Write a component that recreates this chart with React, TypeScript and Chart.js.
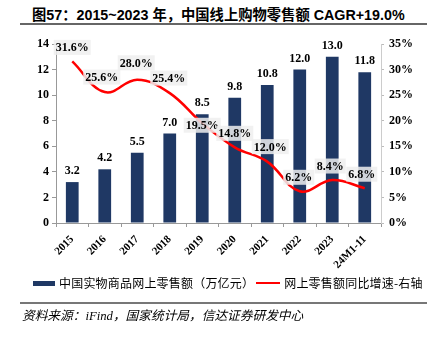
import React, { useEffect, useRef } from "react";
import { Chart, registerables } from "chart.js";

Chart.register(...registerables);

const categories = ["2015", "2016", "2017", "2018", "2019", "2020", "2021", "2022", "2023", "24M1-11"];
const salesValues = [3.2, 4.2, 5.5, 7.0, 8.5, 9.8, 10.8, 12.0, 13.0, 11.8];
const growthValues = [31.6, 25.6, 28.0, 25.4, 19.5, 14.8, 12.0, 6.2, 8.4, 6.8];
const salesLabel = "中国实物商品网上零售额（万亿元）";
const growthLabel = "网上零售额同比增速-右轴";
const titleText = "图57：2015~2023 年，中国线上购物零售额 CAGR+19.0%";
const sourceText = "资料来源：iFind，国家统计局，信达证券研发中心";

// label placement tweaks (pixels) for the growth labels
const growthLabelDx = [0, -3, -1, -1, 0, 0, 3, -1, -2, -3];
const growthLabelDy = [-14, -15, -17, -15, 2, -14, -15, -14, -14, -14];

const NAVY = "#1F3864";
const RED = "#FF0000";
const SERIF = "'Liberation Serif', 'Times New Roman', serif";
const SANS = "'Liberation Sans', Arial, 'Noto Sans CJK SC', sans-serif";
const CJK = "'Noto Sans CJK SC', sans-serif";

const labelPlugin = {
  id: "valueLabels",
  afterDatasetsDraw(chart: any) {
    const ctx = chart.ctx;
    ctx.save();
    ctx.font = `bold 12px ${SERIF}`;
    ctx.textAlign = "center";
    ctx.textBaseline = "middle";
    const barMeta = chart.getDatasetMeta(0);
    barMeta.data.forEach((el: any, i: number) => {
      ctx.fillStyle = "#000";
      ctx.fillText(salesValues[i].toFixed(1), el.x, el.y - 11);
    });
    const lineMeta = chart.getDatasetMeta(1);
    lineMeta.data.forEach((el: any, i: number) => {
      const text = growthValues[i].toFixed(1) + "%";
      const w = ctx.measureText(text).width + 4;
      const h = 15;
      const cx = el.x + growthLabelDx[i];
      const cy = el.y + growthLabelDy[i];
      ctx.fillStyle = "rgba(238,238,238,0.85)";
      ctx.fillRect(cx - w / 2, cy - h / 2, w, h);
      ctx.fillStyle = "#000";
      ctx.fillText(text, cx, cy + 1);
    });
    ctx.restore();
  },
};

export default function App() {
  const canvasRef = useRef<HTMLCanvasElement | null>(null);

  useEffect(() => {
    if (!canvasRef.current) return;
    const chart = new Chart(canvasRef.current, {
      type: "bar",
      data: {
        labels: categories,
        datasets: [
          {
            type: "bar",
            label: salesLabel,
            data: salesValues,
            backgroundColor: NAVY,
            borderWidth: 0,
            yAxisID: "y",
            order: 1,
            barPercentage: 0.8,
            categoryPercentage: 0.49,
          },
          {
            type: "line",
            label: growthLabel,
            data: growthValues,
            borderColor: RED,
            backgroundColor: RED,
            borderWidth: 2.5,
            pointRadius: 0,
            tension: 0.4,
            yAxisID: "y1",
            order: 0,
          },
        ],
      } as any,
      options: {
        responsive: false,
        animation: false,
        maintainAspectRatio: false,
        layout: { padding: { top: 14, left: 0, right: 0, bottom: 0 } },
        plugins: {
          legend: { display: false },
          tooltip: { enabled: false },
          title: { display: false },
        },
        scales: {
          x: {
            grid: {
              display: true,
              drawOnChartArea: false,
              drawTicks: true,
              tickLength: 4,
              color: "#999",
              offset: true,
            },
            border: { display: true, color: "#999", width: 1 },
            ticks: {
              color: "#000",
              font: { family: SERIF, weight: "bold", size: 11 },
              maxRotation: 45,
              minRotation: 45,
              padding: 6,
              autoSkip: false,
            },
            afterFit: (s: any) => {
              s.height = 57;
            },
          },
          y: {
            position: "left",
            min: 0,
            max: 14,
            ticks: {
              stepSize: 2,
              color: "#000",
              font: { family: SERIF, weight: "bold", size: 12 },
              padding: 3,
            },
            grid: { display: true, drawOnChartArea: false, tickLength: 4, color: "#999" },
            border: { display: true, color: "#999", width: 1 },
            afterFit: (s: any) => {
              s.width = 56;
            },
          },
          y1: {
            position: "right",
            min: 0,
            max: 35,
            ticks: {
              stepSize: 5,
              color: "#000",
              font: { family: SERIF, weight: "bold", size: 12 },
              padding: 5,
              callback: (v: any) => v + "%",
            },
            grid: { display: true, drawOnChartArea: false, tickLength: 3, color: "#bbb" },
            border: { display: true, color: "#ccc", width: 1 },
            afterFit: (s: any) => {
              s.width = 49;
            },
          },
        },
      } as any,
      plugins: [labelPlugin],
    });
    return () => chart.destroy();
  }, []);

  return (
    <div
      style={{
        position: "fixed",
        left: 0,
        top: 0,
        width: 430,
        height: 337,
        background: "#fff",
        overflow: "hidden",
      }}
    >
      <div
        style={{
          position: "absolute",
          left: 32,
          top: 6,
          height: 18,
          lineHeight: "18px",
          fontFamily: SANS,
          fontWeight: "bold",
          fontSize: 14.3,
          color: "#000",
          whiteSpace: "nowrap",
        }}
      >
        {titleText}
      </div>
      <div
        style={{
          position: "absolute",
          left: 20,
          top: 23,
          width: 407,
          height: 2,
          background: "#666",
        }}
      />
      <canvas
        ref={canvasRef}
        width={430}
        height={250}
        style={{ position: "absolute", left: 0, top: 30, width: 430, height: 250 }}
      />
      <div
        style={{
          position: "absolute",
          left: 33,
          top: 275,
          height: 16,
          display: "flex",
          alignItems: "center",
          fontFamily: CJK,
          fontSize: 12,
          lineHeight: "16px",
          color: "#000",
          whiteSpace: "nowrap",
        }}
      >
        <span style={{ display: "inline-block", width: 22, height: 5, background: NAVY, marginRight: 4 }} />
        <span style={{ letterSpacing: 0.2 }}>{salesLabel}</span>
        <span style={{ display: "inline-block", width: 24, height: 2.5, background: RED, marginLeft: 2, marginRight: 4 }} />
        <span style={{ letterSpacing: 0.2 }}>{growthLabel}</span>
      </div>
      <div
        style={{
          position: "absolute",
          left: 20,
          top: 302,
          width: 407,
          height: 2,
          background: "#777",
        }}
      />
      <div
        style={{
          position: "absolute",
          left: 22,
          top: 308,
          height: 16,
          lineHeight: "16px",
          fontFamily: `${SERIF}, ${CJK}`,
          fontStyle: "italic",
          fontSize: 12.7,
          color: "#000",
          whiteSpace: "nowrap",
        }}
      >
        {sourceText}
      </div>
    </div>
  );
}
